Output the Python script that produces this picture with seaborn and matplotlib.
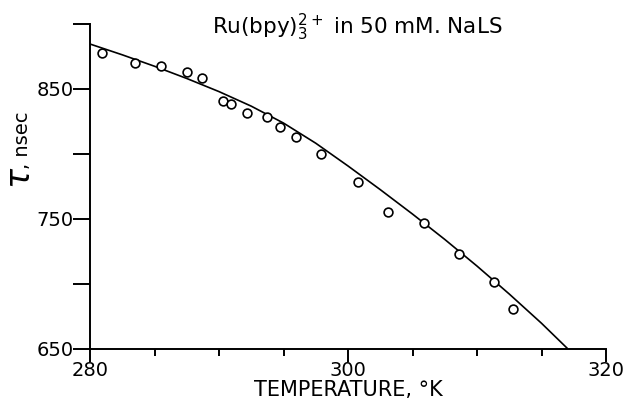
import matplotlib
matplotlib.use("Agg")
import matplotlib.pyplot as plt
import seaborn as sns
import pandas as pd

# measured points
temp_pts = [280.9, 283.5, 285.5, 287.5, 288.7, 290.3, 290.9, 292.2, 293.7, 294.7,
            296.0, 297.9, 300.8, 303.1, 305.9, 308.6, 311.3, 312.8]
tau_pts = [877.9, 869.7, 867.7, 863.1, 858.5, 840.8, 838.7, 831.5, 828.7, 821.0,
           813.3, 800.0, 778.7, 755.6, 747.2, 723.1, 701.5, 680.5]

# fitted curve
temp_fit = [280.0, 282.5, 285.0, 287.5, 290.0, 292.5, 295.0, 297.5, 300.0, 302.5,
            305.0, 307.5, 310.0, 312.5, 315.0, 317.0]
tau_fit = [884.6, 876.3, 867.5, 858.1, 848.0, 836.8, 823.8, 808.3, 790.8, 772.6,
           753.8, 734.3, 713.8, 692.3, 669.8, 650.5]

x_major = [280, 300, 320]
x_minor = [285, 290, 295, 305, 310, 315]
y_ticks = [650, 700, 750, 800, 850, 900]
y_labels = ["650", "", "750", "", "850", ""]

sns.set_style("ticks")
plt.rcParams['font.family'] = ['DejaVu Sans']
plt.rcParams['text.color'] = 'black'
plt.rcParams['axes.labelcolor'] = 'black'

fig = plt.figure(figsize=(6.26, 4.01), dpi=100)
ax = fig.add_axes([90/626, 1-349/401, (606-90)/626, (349-24)/401])

df_pts = pd.DataFrame({"T": temp_pts, "tau": tau_pts})
df_fit = pd.DataFrame({"T": temp_fit, "tau": tau_fit})

sns.lineplot(data=df_fit, x="T", y="tau", ax=ax, color="black", linewidth=1.2)
sns.scatterplot(data=df_pts, x="T", y="tau", ax=ax, marker="o", s=40,
                facecolor="white", edgecolor="black", linewidth=1.2, zorder=3)

ax.set_xlim(280, 320)
ax.set_ylim(650, 900)
sns.despine(ax=ax)
for s in ["left", "bottom"]:
    ax.spines[s].set_linewidth(1.4)
    ax.spines[s].set_color("black")

ax.set_xticks(x_major)
ax.set_xticklabels([str(v) for v in x_major])
ax.set_xticks(x_minor, minor=True)
ax.tick_params(axis="x", which="major", length=9, width=1.4, direction="out",
               labelsize=14, pad=0, colors="black")
ax.tick_params(axis="x", which="minor", length=5, width=1.4, direction="out",
               colors="black")
ax.set_yticks(y_ticks)
ax.set_yticklabels(y_labels)
ax.tick_params(axis="y", which="major", length=12, width=1.4, direction="out",
               labelsize=14, pad=0, colors="black")

ax.set_xlabel("TEMPERATURE, °K", fontsize=15, labelpad=0, color="black")
ax.set_ylabel("")

fig.text(357/626, 1-27/401, r"Ru(bpy)$_3^{2+}$ in 50 mM. NaLS", fontsize=15.5,
         ha="center", va="center", color="black")
fig.text(21/626, 1-178/401, r"$\tau$", fontsize=24, rotation=90,
         ha="center", va="center", color="black")
fig.text(23/626, 1-140/401, ", nsec", fontsize=14, rotation=90,
         ha="center", va="center", color="black")

fig.savefig("out.png", dpi=100)
